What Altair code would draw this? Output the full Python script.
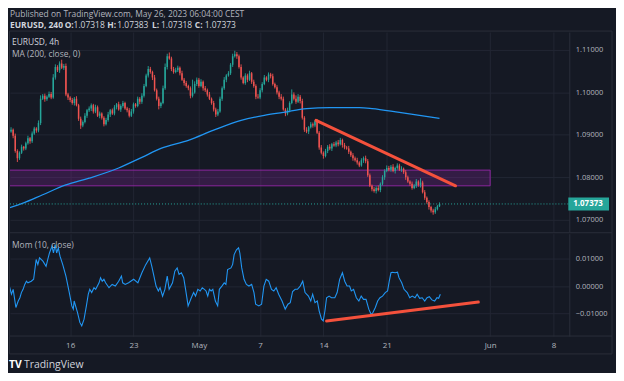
import altair as alt
import pandas as pd

# ---------------- data ----------------
# 4h closes of EURUSD in 1e-4 units, bar 0 = Apr 10 03:00 ... bar 204 = May 26 03:00
closes = [
    10908, 10912, 10898, 10862, 10845, 10858, 10872, 10868, 10880, 10892,
    10885, 10903, 10915, 10910, 10928, 10985, 10992, 10984, 10990, 10996,
    10988, 11035, 11060, 11052, 11068, 11058, 11062, 10995, 10988, 10982,
    10975, 10985, 10970, 10938, 10922, 10930, 10945, 10958, 10962, 10970,
    10955, 10965, 10945, 10950, 10940, 10925, 10935, 10948, 10958, 10950,
    10965, 10972, 10960, 10968, 10975, 10962, 10958, 10945, 10955, 10972,
    10968, 10985, 10978, 10992, 11015, 11040, 11055, 11048, 11035, 11005,
    10985, 10968, 10975, 11010, 11060, 11085, 11080, 11055, 11048, 11052,
    11058, 11045, 11030, 11022, 11015, 11010, 10992, 11000, 11020, 11030,
    11015, 11025, 11010, 11005, 10995, 10985, 10975, 10960, 10948, 10955,
    10985, 11010, 11030, 11040, 11045, 11065, 11085, 11090, 11085, 11060,
    11035, 11022, 11040, 11030, 11045, 11025, 11015, 10990, 10988, 11005,
    11020, 11035, 11030, 11042, 11038, 11020, 11012, 11000, 10990, 10985,
    10960, 10950, 10958, 10975, 10995, 10985, 10978, 10990, 10980, 10940,
    10912, 10908, 10918, 10925, 10922, 10932, 10905, 10870, 10858, 10850,
    10862, 10872, 10868, 10878, 10875, 10882, 10878, 10888, 10876, 10870,
    10868, 10860, 10852, 10845, 10840, 10835, 10828, 10840, 10845, 10838,
    10805, 10780, 10772, 10768, 10775, 10770, 10785, 10800, 10815, 10822,
    10818, 10825, 10815, 10822, 10828, 10818, 10820, 10812, 10800, 10790,
    10785, 10775, 10780, 10790, 10782, 10788, 10765, 10752, 10742, 10730,
    10722, 10718, 10725, 10732, 10737,
]
open_first = 10902
# wick lengths above / below the candle body, in 1e-4 units
up_wick = [
    4, 6, 3, 5, 4, 3, 5, 2, 4, 6,
    3, 5, 4, 3, 6, 8, 4, 5, 3, 6,
    5, 8, 6, 4, 5, 9, 5, 6, 4, 3,
    5, 4, 6, 3, 5, 4, 6, 3, 5, 4,
    3, 6, 4, 5, 3, 4, 5, 6, 3, 4,
    5, 3, 6, 4, 5, 3, 4, 5, 6, 4,
    3, 5, 4, 6, 5, 4, 7, 5, 3, 6,
    4, 5, 3, 6, 8, 6, 9, 4, 5, 6,
    5, 3, 6, 4, 5, 3, 4, 30, 6, 5,
    4, 6, 3, 5, 4, 6, 3, 5, 4, 6,
    5, 4, 6, 3, 5, 4, 6, 8, 5, 4,
    6, 3, 5, 4, 6, 3, 5, 4, 6, 5,
    4, 6, 3, 5, 4, 6, 3, 5, 4, 6,
    5, 3, 6, 4, 12, 5, 8, 6, 4, 5,
    4, 6, 3, 5, 4, 3, 5, 4, 6, 3,
    5, 4, 6, 3, 5, 4, 6, 5, 3, 5,
    4, 6, 3, 5, 4, 6, 3, 5, 4, 6,
    5, 4, 3, 5, 4, 6, 3, 5, 4, 6,
    5, 4, 6, 3, 5, 4, 6, 3, 5, 4,
    3, 5, 4, 6, 3, 10, 4, 5, 3, 4,
    3, 4, 5, 3, 4,
]
down_wick = [
    5, 3, 6, 4, 9, 4, 3, 5, 4, 3,
    6, 4, 3, 5, 4, 5, 3, 6, 4, 3,
    4, 3, 5, 4, 6, 3, 5, 4, 6, 5,
    4, 6, 3, 5, 8, 4, 3, 5, 4, 6,
    5, 4, 3, 6, 4, 5, 3, 4, 6, 3,
    4, 5, 3, 6, 4, 3, 5, 4, 3, 5,
    4, 3, 6, 5, 4, 3, 5, 4, 6, 3,
    4, 8, 5, 3, 4, 6, 3, 5, 4, 3,
    4, 5, 3, 6, 4, 5, 6, 4, 3, 5,
    4, 3, 6, 4, 5, 3, 4, 5, 6, 4,
    3, 5, 4, 6, 3, 4, 5, 3, 6, 4,
    5, 3, 4, 6, 3, 5, 4, 6, 3, 4,
    5, 3, 4, 6, 5, 4, 3, 5, 6, 4,
    3, 6, 4, 5, 3, 4, 5, 3, 6, 4,
    5, 4, 6, 3, 5, 4, 3, 5, 4, 6,
    3, 5, 4, 6, 3, 4, 5, 3, 6, 4,
    3, 5, 4, 6, 3, 5, 4, 3, 6, 5,
    4, 3, 5, 4, 6, 3, 5, 4, 6, 3,
    4, 5, 3, 6, 4, 3, 5, 4, 6, 3,
    5, 4, 3, 5, 4, 6, 3, 5, 4, 6,
    5, 6, 4, 3, 2,
]
# MA(200) curve, read at a few bars
ma_t = [0, 7, 16, 27, 38, 52, 63, 72, 85, 97, 110, 121, 130, 141, 152, 166, 172, 185, 204]
ma_v = [1.0728, 1.0740, 1.0759, 1.0782, 1.0798, 1.0822, 1.0847, 1.0868, 1.0887, 1.0911,
        1.0934, 1.0946, 1.0953, 1.0962, 1.0964, 1.0964, 1.0962, 1.0953, 1.0939]
# Mom(10, close): (bar, value)
mom_pts = [
    (0, 0.0006), (1.2, -0.0030), (2.0, -0.0012), (3.3, -0.0079), (4.4, -0.0055), (5.2, -0.0043),
    (5.9, -0.0024), (6.7, -0.0012), (7.5, 0.0006), (8.3, 0.0018), (9.0, 0.0012), (10.6, 0.0018),
    (11.7, 0.0025), (12.9, 0.0098), (13.7, 0.0079), (14.5, 0.0104), (16.1, 0.0092), (17.6, 0.0073),
    (18.4, 0.0098), (19.2, 0.0122), (20.4, 0.0147), (21.1, 0.0122), (21.9, 0.0153), (22.6, 0.0122),
    (23.4, 0.0141), (24.2, 0.0110), (25.5, 0.0079), (27.0, 0.0037), (27.8, 0.0006), (28.6, -0.0024),
    (29.8, -0.0073), (30.5, -0.0085), (30.9, -0.0055), (32.5, -0.0098), (33.6, -0.0134), (34.5, -0.0147),
    (35.6, -0.0122), (36.7, -0.0073), (37.6, -0.0030), (38.3, -0.0012), (39.2, -0.0024), (40.3, -0.0006),
    (41.1, -0.0012), (42.7, 0.0012), (43.4, 0.0031), (44.2, 0.0018), (45.0, 0.0025), (45.8, 0.0012),
    (47.4, -0.0006), (48.9, 0.0006), (50.4, 0.0000), (52.0, 0.0018), (53.3, 0.0037), (53.9, 0.0012),
    (55.1, 0.0006), (56.7, 0.0012), (59.1, 0.0025), (61.1, 0.0012), (63.0, 0.0049), (64.8, 0.0079),
    (66.7, 0.0104), (67.7, 0.0073), (68.7, 0.0037), (69.7, 0.0000), (70.8, -0.0018), (71.6, -0.0006),
    (72.8, -0.0037), (73.9, -0.0012), (75.0, 0.0037), (75.9, -0.0012), (77.5, 0.0012), (78.6, 0.0055),
    (79.7, 0.0067), (80.6, 0.0043), (81.7, 0.0049), (82.8, 0.0031), (83.7, -0.0012), (84.9, -0.0073),
    (86.4, -0.0043), (87.5, -0.0024), (88.4, -0.0037), (89.5, -0.0012), (90.6, -0.0018), (91.6, -0.0006),
    (92.6, -0.0012), (93.4, -0.0018), (94.2, -0.0037), (95.0, -0.0012), (95.8, -0.0018), (96.6, -0.0012),
    (97.8, -0.0055), (98.9, -0.0073), (99.7, -0.0012), (100.9, 0.0000), (102.0, 0.0012), (102.8, 0.0006),
    (103.6, 0.0061), (105.2, 0.0067), (106.0, 0.0080), (106.7, 0.0116), (107.8, 0.0134), (108.8, 0.0141),
    (109.4, 0.0122), (110.3, 0.0067), (111.4, 0.0025), (112.5, 0.0006), (113.7, 0.0000), (115.0, 0.0006),
    (116.1, -0.0024), (116.9, -0.0067), (118.4, -0.0073), (119.7, -0.0067), (120.8, 0.0000), (121.9, 0.0025),
    (123.1, 0.0018), (124.4, -0.0012), (125.5, -0.0018), (126.6, -0.0006), (127.8, -0.0030), (129.4, -0.0055),
    (130.9, -0.0085), (132.2, -0.0067), (133.3, -0.0061), (134.4, -0.0020), (135.6, -0.0012), (136.7, -0.0012),
    (138.0, 0.0000), (139.2, 0.0018), (140.3, -0.0024), (141.9, -0.0037), (143.0, -0.0055), (143.9, -0.0030),
    (145.0, -0.0061), (146.1, -0.0055), (147.0, -0.0092), (148.1, -0.0122), (148.9, -0.0128), (149.7, -0.0092),
    (150.5, -0.0043), (151.7, -0.0037), (152.8, -0.0043), (154.4, -0.0043), (155.5, -0.0024), (156.7, 0.0025),
    (158.0, 0.0049), (159.1, 0.0018), (160.2, 0.0000), (161.4, 0.0000), (162.2, -0.0018), (163.3, -0.0012),
    (164.6, -0.0043), (165.8, -0.0055), (166.9, -0.0037), (168.0, -0.0049), (169.2, -0.0049), (170.5, -0.0085),
    (171.6, -0.0104), (172.3, -0.0100), (173.6, -0.0079), (174.7, -0.0055), (175.8, -0.0043), (177.0, -0.0037),
    (178.3, -0.0024), (179.4, -0.0018), (180.2, 0.0018), (181.0, 0.0049), (181.7, 0.0051), (183.0, 0.0049),
    (184.1, 0.0051), (184.8, 0.0031), (186.1, 0.0012), (187.2, -0.0012), (188.7, -0.0024), (189.9, -0.0043),
    (191.1, -0.0037), (192.4, -0.0043), (193.4, -0.0030), (194.6, -0.0045), (195.8, -0.0043), (197.0, -0.0055),
    (198.1, -0.0043), (199.2, -0.0039), (200.4, -0.0051), (201.7, -0.0055), (202.8, -0.0043), (203.6, -0.0045),
    (204.4, -0.0030),
]
# purple support zone (bar range, price range)
zone_bars = [0, 228]
zone_prices = [1.0780, 1.0817]
# drawn trend lines: (bar, value)
trend_price = [(145.5, 1.0934), (211.6, 1.0780)]
trend_mom = [(150.5, -0.0129), (222.4, -0.0059)]
last_price = 1.07373
# time axis
tick_pos = [29, 59, 90, 119, 149, 179, 228, 258]
tick_lab = ["16", "23", "May", "7", "14", "21", "Jun", "8"]
price_ticks = [1.070, 1.075, 1.080, 1.085, 1.090, 1.095, 1.100, 1.105, 1.110]
mom_ticks = [-0.01, 0.0, 0.01]

# ---------------- styling ----------------
BG = "#151924"
GRID = "#222633"
BORDER = "#2a2e39"
LBL = "#b2b5be"
TXT = "#d1d4dc"
UP = "#26a69a"
DN = "#ef5350"
BLUE = "#2196f3"
RED = "#f4513c"
PURPLE = "#9c27b0"
FONT = "Open Sans"

# the page adds an 8px margin, so the whole figure is 608 x 365
W, HP, HM = 563, 201, 103

n = len(closes)
opens = [open_first] + closes[:-1]
rows = []
for i in range(n):
    o, c = opens[i] / 1e4, closes[i] / 1e4
    rows.append(dict(t=i, o=o, c=c,
                     h=max(o, c) + up_wick[i] / 1e4,
                     l=min(o, c) - down_wick[i] / 1e4,
                     dir="up" if c >= o else "down"))
candles = pd.DataFrame(rows)
ma_df = pd.DataFrame({"t": ma_t, "v": ma_v})
mom_df = pd.DataFrame(mom_pts, columns=["t", "v"])
zone_df = pd.DataFrame({"t0": [zone_bars[0]], "t1": [zone_bars[1]],
                        "lo": [zone_prices[0]], "hi": [zone_prices[1]]})
tp_df = pd.DataFrame(trend_price, columns=["t", "v"])
tm_df = pd.DataFrame(trend_mom, columns=["t", "v"])
last_df = pd.DataFrame({"p": [last_price], "s": [f"{last_price:.5f}"]})
one = pd.DataFrame({"k": [0]})

XS = alt.Scale(domain=[0.5, 265.5], nice=False, zero=False)
YP = alt.Scale(domain=[1.06719, 1.11421], nice=False, zero=False)
YM = alt.Scale(domain=[-0.01842, 0.01930], nice=False, zero=False)

label_expr = " : ".join(f"datum.value == {p} ? '{l}'" for p, l in zip(tick_pos, tick_lab)) + " : ''"

xgrid_axis = alt.Axis(values=tick_pos, labels=False, ticks=False, domain=False,
                      grid=True, gridColor=GRID, title=None)
time_axis = alt.Axis(values=tick_pos, labelExpr=label_expr, labelColor=LBL, labelFont=FONT,
                     labelFontSize=8, ticks=False, domain=False, grid=True, gridColor=GRID,
                     labelPadding=6, labelOverlap=False, labelFlush=False, title=None)
price_axis = alt.Axis(orient="right", values=price_ticks, format=".5f", labelColor=LBL,
                      labelFont=FONT, labelFontSize=7.5, tickSize=0, labelPadding=6,
                      domainColor=BORDER, grid=True, gridColor=GRID, title=None)
mom_axis = alt.Axis(orient="right", values=mom_ticks, format=".5f", labelColor=LBL,
                    labelFont=FONT, labelFontSize=7.5, tickSize=0, labelPadding=6,
                    domainColor=BORDER, grid=True, gridColor=GRID, title=None)

color = alt.Color("dir:N", scale=alt.Scale(domain=["up", "down"], range=[UP, DN]), legend=None)


def txt(s, x, y, size=8.5, col=TXT, weight="normal"):
    return alt.Chart(one).mark_text(text=s, align="left", baseline="middle", font=FONT,
                                    fontSize=size, color=col, fontWeight=weight).encode(
        x=alt.value(x), y=alt.value(y))


def hrule(x1, x2, y, col=BORDER, w=1):
    return alt.Chart(one).mark_rule(color=col, strokeWidth=w).encode(
        x=alt.value(x1), x2=alt.value(x2), y=alt.value(y))


# ----- main price pane (origin at page 9,31) -----
bounds = alt.Chart(one).mark_rect(opacity=0).encode(
    x=alt.value(-1), x2=alt.value(607), y=alt.value(-23), y2=alt.value(342))

wicks = alt.Chart(candles).mark_rule(strokeWidth=0.9, clip=True).encode(
    x=alt.X("t:Q", scale=XS, axis=xgrid_axis),
    y=alt.Y("l:Q", scale=YP, axis=price_axis),
    y2="h:Q", color=color)
bodies = alt.Chart(candles).mark_rule(strokeWidth=1.5, clip=True).encode(
    x="t:Q", y="o:Q", y2="c:Q", color=color)

zone = alt.Chart(zone_df).mark_rect(fill=PURPLE, fillOpacity=0.24, stroke=PURPLE,
                                   strokeOpacity=0.85, strokeWidth=1, clip=True).encode(
    x="t0:Q", x2="t1:Q", y="lo:Q", y2="hi:Q")
ma = alt.Chart(ma_df).mark_line(color=BLUE, strokeWidth=1.3, interpolate="monotone",
                                clip=True).encode(x="t:Q", y="v:Q")
trend1 = alt.Chart(tp_df).mark_line(color=RED, strokeWidth=3, strokeCap="round").encode(
    x="t:Q", y="v:Q")
last_line = alt.Chart(last_df).mark_rule(color=UP, strokeDash=[1, 2], strokeWidth=1).encode(
    y="p:Q", x=alt.value(0), x2=alt.value(W))
last_box = alt.Chart(last_df).mark_rule(color=UP, strokeWidth=13).encode(
    y="p:Q", x=alt.value(562), x2=alt.value(603))
last_txt = alt.Chart(last_df).mark_text(align="left", baseline="middle", font=FONT, fontSize=8,
                                        color="#ffffff", fontWeight="bold").encode(
    y="p:Q", x=alt.value(567), text="s:N")

frame = alt.Chart(one).mark_rect(fillOpacity=0, stroke=BORDER, strokeWidth=1).encode(
    x=alt.value(-0.5), x2=alt.value(606), y=alt.value(-1), y2=alt.value(324))

hy1, hy2 = -18.5, -7.5
header = [
    txt("Published on TradingView.com, May 26, 2023 06:04:00 CEST", 0, hy1, 8.5, LBL),
    txt("EURUSD, 240", 0, hy2, 8.5, TXT, "bold"),
    txt("O:", 55, hy2, 8.5, TXT, "bold"),
    txt("1.07318", 64, hy2, 8.5, TXT),
    txt("H:", 98, hy2, 8.5, TXT, "bold"),
    txt("1.07383", 108, hy2, 8.5, TXT),
    txt("L:", 143, hy2, 8.5, TXT, "bold"),
    txt("1.07318", 152, hy2, 8.5, TXT),
    txt("C:", 186, hy2, 8.5, TXT, "bold"),
    txt("1.07373", 196, hy2, 8.5, TXT),
    txt("EURUSD, 4h", 2, 10.5, 8.5, TXT),
    txt("MA (200, close, 0)", 2, 22.5, 8.5, LBL),
]

main = alt.layer(bounds, zone, wicks, bodies, ma, trend1, last_line, last_box, last_txt,
                 hrule(-1, 606, 202), frame, *header).properties(width=W, height=HP)

# ----- momentum pane (origin at page 9,234) -----
mom_line = alt.Chart(mom_df).mark_line(color=BLUE, strokeWidth=1.1, clip=True).encode(
    x=alt.X("t:Q", scale=XS, axis=time_axis),
    y=alt.Y("v:Q", scale=YM, axis=mom_axis))
trend2 = alt.Chart(tm_df).mark_line(color=RED, strokeWidth=3, strokeCap="round").encode(
    x="t:Q", y="v:Q")
mom = alt.layer(
    mom_line, trend2,
    hrule(-1, 606, 103),
    txt("Mom (10, close)", 2, 11.5, 8.5, LBL),
    txt("TV", -1, 132, 10.5, "#ffffff", "bold"),
    txt("TradingView", 14, 132, 10.5, TXT),
).properties(width=W, height=HM)

chart = alt.vconcat(main, mom, spacing=2, bounds="flush").properties(
    padding=0,
).configure(background=BG).configure_view(strokeWidth=0)

chart.save("out.html", embed_options={"renderer": "svg", "actions": False})
